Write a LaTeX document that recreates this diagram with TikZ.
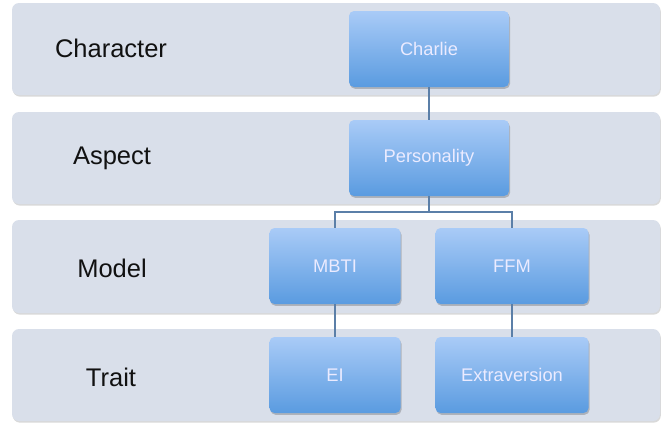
\documentclass[tikz,border=0pt]{standalone}
\usepackage{fontspec}
\setmainfont{Liberation Sans}
\usetikzlibrary{shadows}
\definecolor{bandfill}{HTML}{D9DFEA}
\definecolor{boxtop}{HTML}{A9CBF7}
\definecolor{boxbot}{HTML}{5A9BE0}
\definecolor{linkcol}{HTML}{5B7FA8}
\definecolor{labelcol}{HTML}{111111}
\tikzset{
  band/.style={draw=none, fill=bandfill, rounded corners=7pt,
    drop shadow={shadow xshift=0.8pt, shadow yshift=-1.6pt, opacity=0.25, fill=black!60}},
  levellabel/.style={font=\fontsize{25.5}{28}\selectfont, text=labelcol, anchor=center},
  item/.style={draw=none, rounded corners=5pt, top color=boxtop, bottom color=boxbot,
    minimum height=76pt, text=white!92!blue, font=\fontsize{18.3}{21}\selectfont,
    drop shadow={shadow xshift=1pt, shadow yshift=-1.8pt, opacity=0.3, fill=black!70}},
  link/.style={draw=linkcol, line width=1.3pt}
}
\begin{document}
\begin{tikzpicture}[x=1pt, y=-1pt]
  \useasboundingbox (0,0) rectangle (668,424);
  % horizontal level bands
  \path[band] (12,3) rectangle (660,95);
  \path[band] (12,112) rectangle (660,204);
  \path[band] (12,220) rectangle (660,313);
  \path[band] (12,329) rectangle (660,421);
  % level names
  \node[levellabel] (lchar) at (111,48) {Character};
  \node[levellabel] (lasp) at (112,158) {Aspect};
  \node[levellabel] (lmod) at (112,268) {Model};
  \node[levellabel] (ltrait) at (111,377) {Trait};
  % hierarchy boxes
  \node[item, minimum width=160pt] (charlie) at (429,49) {Charlie};
  \node[item, minimum width=160pt] (pers) at (429,158) {Personality};
  \node[item, minimum width=131pt] (mbti) at (335,266) {MBTI};
  \node[item, minimum width=153pt] (ffm) at (512,266) {FFM};
  \node[item, minimum width=131pt] (ei) at (335,375) {EI};
  \node[item, minimum width=153pt] (extra) at (512,375) {Extraversion};
  % connectors
  \coordinate (fork) at (429,212);
  \draw[link] (charlie.south) -- (pers.north);
  \draw[link] (pers.south) -- (fork) -| (mbti.north);
  \draw[link] (fork) -| (ffm.north);
  \draw[link] (mbti.south) -- (ei.north);
  \draw[link] (ffm.south) -- (extra.north);
\end{tikzpicture}
\end{document}
